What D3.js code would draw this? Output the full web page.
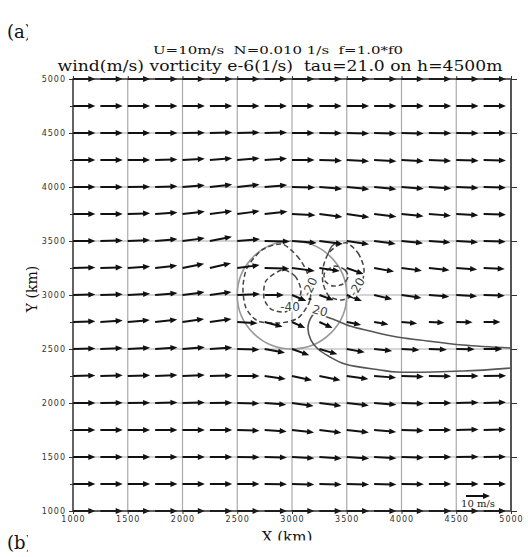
<!DOCTYPE html>
<html><head><meta charset="utf-8">
<script src="https://cdn.jsdelivr.net/npm/d3@7"></script>
<style>body{margin:0;background:#fff}text{white-space:pre}</style>
</head><body><svg id="c" width="528" height="557"></svg>
<script>
// ---------- data ----------
const xCols = [1000,1250,1500,1750,2000,2250,2500,2750,3000,3250,3500,3750,4000,4250,4500,4750];
const yRows = [5000,4750,4500,4250,4000,3750,3500,3250,3000,2750,2500,2250,2000,1750,1500,1250,1000];
const uRows = [
 [9.3,9.3,9.3,9.3,9.3,9.3,9.3,9.3,9.3,9.3,9.3,9.3,9.3,9.3,9.3,9.3],
 [9.3,9.3,9.3,9.3,9.3,9.3,9.3,9.3,9.3,9.3,9.3,9.3,9.3,9.3,9.3,9.3],
 [9.3,9.3,9.3,9.3,9.3,9.3,9.3,9.3,9.3,9.3,9.3,9.3,9.3,9.3,9.3,9.3],
 [9.3,9.3,9.3,9.3,9.3,9.3,9.3,9.3,9.4,9.4,9.3,9.3,9.3,9.3,9.3,9.3],
 [9.3,9.3,9.3,9.3,9.3,9.3,9.3,9.4,9.6,9.5,9.4,9.3,9.3,9.3,9.3,9.3],
 [9.3,9.3,9.3,9.3,9.3,9.3,9.3,9.5,9.8,9.6,9.4,9.3,9.2,9.2,9.2,9.3],
 [9.3,9.3,9.3,9.3,9.3,9.2,9.5,10.5,10.3,9.8,9.3,9.0,9.0,9.0,9.1,9.2],
 [9.3,9.3,9.3,9.2,9.0,8.8,9.3,10.3,9.5,8.5,7.0,8.3,8.5,8.6,8.7,8.8],
 [9.3,9.3,9.3,9.3,9.2,9.0,9.5,8.0,6.0,6.0,6.3,7.5,8.3,8.5,8.7,8.8],
 [9.3,9.3,9.2,9.2,9.0,9.0,8.5,7.5,5.5,5.5,6.0,6.0,6.5,6.5,6.8,7.0],
 [9.3,9.3,9.3,9.3,9.3,9.3,9.2,8.5,7.2,7.5,7.5,7.5,7.5,7.5,7.7,7.8],
 [9.3,9.3,9.3,9.3,9.3,9.3,9.3,8.8,8.3,8.8,9.0,9.2,9.3,9.3,9.3,9.4],
 [9.3,9.3,9.3,9.3,9.3,9.3,9.2,9.0,9.0,9.2,9.2,9.3,9.3,9.3,9.3,9.3],
 [9.3,9.3,9.3,9.3,9.3,9.3,9.3,9.2,9.2,9.2,9.2,9.2,9.3,9.3,9.3,9.3],
 [9.3,9.3,9.3,9.3,9.3,9.3,9.3,9.3,9.3,9.3,9.3,9.3,9.3,9.3,9.3,9.3],
 [9.3,9.3,9.3,9.3,9.3,9.3,9.3,9.3,9.3,9.3,9.3,9.3,9.3,9.3,9.3,9.3],
 [9.3,9.3,9.3,9.3,9.3,9.3,9.3,9.3,9.3,9.3,9.3,9.3,9.3,9.3,9.3,9.3]
];
const vRows = [
 [0,0,0,0,0,0,0,0,0,0,0,0,0,0,0,0],
 [0,0,0,0,0,0,0,0,0,0,0,0,0,0,0,0],
 [0,0,0,0,0.1,0.2,0.2,0.2,0,-0.1,-0.2,-0.2,-0.2,-0.1,-0.1,0],
 [0,0,0,0.2,0.5,0.7,0.7,0.6,0,-0.3,-0.5,-0.5,-0.5,-0.4,-0.3,-0.2],
 [0,0,0.1,0.3,0.7,1.0,1.0,0.8,-0.2,-0.8,-0.9,-0.9,-0.7,-0.6,-0.4,-0.3],
 [0,0,0.3,0.6,1.0,1.2,1.2,1.0,-0.5,-1.3,-1.4,-1.1,-0.9,-0.7,-0.5,-0.3],
 [0,0.2,0.4,0.8,1.2,1.8,0.8,-0.2,-0.8,-1.2,-1.4,-1.2,-0.9,-0.6,-0.5,-0.3],
 [0.2,0.3,0.6,1.0,1.8,2.0,1.2,-0.3,-1.2,-1.3,-2.5,-1.5,-1.1,-0.9,-0.6,-0.4],
 [0.2,0.3,0.5,0.8,1.2,1.3,0.4,0,-2.5,-2.2,-2.5,-1.8,-1.2,-0.7,-0.5,-0.3],
 [0.3,0.6,0.8,1.0,1.3,1.3,-0.5,-2.0,-2.5,-2.5,-1.2,-1.0,-0.6,-0.3,-0.1,0],
 [0.2,0.4,0.5,0.6,0.7,0.6,-0.3,-1.6,-2.6,-2.2,-1.4,-0.8,-0.4,-0.3,-0.1,0],
 [0.2,0.3,0.3,0.4,0.4,0.2,0,-1.3,-1.8,-1.8,-1.3,-0.7,-0.3,-0.1,0,0.1],
 [0,0.1,0.1,0.2,0.2,0.1,-0.2,-0.7,-1.3,-1.2,-1.0,-0.7,-0.3,0,0.2,0.3],
 [0,0,0,0,0,0,-0.3,-0.6,-1.0,-1.1,-1.0,-0.8,-0.3,0,0.2,0.2],
 [0,0,0,0,0,0,-0.1,-0.2,-0.5,-0.6,-0.6,-0.5,-0.3,0,0.1,0.1],
 [0,0,0,0,0,0,0,-0.1,-0.2,-0.2,-0.2,-0.2,-0.1,0,0,0],
 [0,0,0,0,0,0,0,0,0,0,0,0,0,0,0,0]
];
const majorTicks = [1000,1500,2000,2500,3000,3500,4000,4500,5000];
const minorTicks = [1250,1750,2250,2750,3250,3750,4250,4750];
const gridVals = [1500,2000,2500,3000,3500,4000,4500];
const refSpeed = 10;
const terrain = {cx:3000, cy:3000, r:500};
// vorticity contours (km coordinates)
const negOuterLeft = [[2909,3472],[3046,3361],[3128,3232],[3173,3074],[3155,2926],[3055,2787],[2890,2741],[2689,2759],[2580,2880],[2552,3065],[2589,3250],[2726,3417]];
const negInnerLeft = [[2909,3232],[3027,3176],[3082,3046],[3046,2917],[2936,2843],[2808,2870],[2744,2972],[2762,3130]];
const negOuterRight = [[3502,3482],[3603,3389],[3657,3250],[3639,3111],[3575,3009],[3456,2954],[3338,2991],[3283,3111],[3283,3250],[3329,3380],[3411,3454]];
const negInnerRight = [[3393,3269],[3484,3232],[3511,3167],[3466,3102],[3374,3083],[3301,3130],[3301,3213]];
const posContour = [[5000,2509],[4561,2537],[4169,2583],[3959,2611],[3712,2667],[3530,2713],[3393,2769],[3301,2806],[3240,2850],[3183,2806],[3146,2695],[3173,2583],[3237,2500],[3347,2426],[3484,2361],[3804,2306],[3959,2287],[4561,2296],[5000,2324]];
const zeroFrag = [[3329,3380],[3366,3454],[3420,3490]];
const contourLabels = [
  {t:"-40", x:2982, y:2889, rot:0},
  {t:"-20", x:3164, y:3074, rot:-65},
  {t:"-20", x:3593, y:3074, rot:-60},
  {t:"20",  x:3256, y:2852, rot:15}
];
const centerDot = [3164,2963];

// ---------- drawing ----------
const svg = d3.select("#c");
const x = d3.scaleLinear().domain([1000,5000]).range([73,511]);
const y = d3.scaleLinear().domain([1000,5000]).range([511,79]);
const len = d3.scaleLinear().domain([0,10]).range([0,24]);

// grid
const g = svg.append("g");
g.selectAll("line.gx").data(gridVals).join("line")
  .attr("x1",d=>x(d)).attr("x2",d=>x(d)).attr("y1",y(1000)).attr("y2",y(5000))
  .attr("stroke","#aaa").attr("stroke-width",1.2);
g.selectAll("line.gy").data(gridVals).join("line")
  .attr("y1",d=>y(d)).attr("y2",d=>y(d)).attr("x1",x(1000)).attr("x2",x(5000))
  .attr("stroke","#aaa").attr("stroke-width",1.2);

// terrain circle
svg.append("ellipse").attr("cx",x(terrain.cx)).attr("cy",y(terrain.cy))
  .attr("rx",x(terrain.cx+terrain.r)-x(terrain.cx)).attr("ry",y(terrain.cy)-y(terrain.cy+terrain.r))
  .attr("fill","none").attr("stroke","#999").attr("stroke-width",1.6);

// contours
const closed = d3.line().x(d=>x(d[0])).y(d=>y(d[1])).curve(d3.curveCardinalClosed.tension(0.2));
const open = d3.line().x(d=>x(d[0])).y(d=>y(d[1])).curve(d3.curveCatmullRom);
[negOuterLeft,negInnerLeft,negOuterRight,negInnerRight].forEach(c=>{
  svg.append("path").attr("d",closed(c)).attr("fill","none").attr("stroke","#444")
    .attr("stroke-width",1.5).attr("stroke-dasharray","5,3");
});
svg.append("path").attr("d",open(posContour)).attr("fill","none").attr("stroke","#555").attr("stroke-width",1.6);
svg.append("path").attr("d",open(zeroFrag)).attr("fill","none").attr("stroke","#555").attr("stroke-width",1.4);

// arrows
const ag = svg.append("g");
yRows.forEach((yy,i)=>{
  xCols.forEach((xx,j)=>{
    const u=uRows[i][j], v=vRows[i][j];
    const dx=len(u), dy=-len(v);
    const L=Math.hypot(dx,dy), a=Math.atan2(dy,dx)*180/Math.PI;
    const gg=ag.append("g").attr("transform",`translate(${x(xx)},${y(yy)}) rotate(${a})`);
    gg.append("line").attr("x1",0).attr("y1",0).attr("x2",L-4).attr("y2",0)
      .attr("stroke","#111").attr("stroke-width",2);
    gg.append("path").attr("d",`M${L},0L${L-7},-2.9L${L-7},2.9Z`).attr("fill","#111");
  });
});

// contour labels
contourLabels.forEach(l=>{
  svg.append("text").attr("transform",`translate(${x(l.x)},${y(l.y)}) rotate(${l.rot})`)
    .attr("text-anchor","middle").attr("dominant-baseline","central")
    .attr("font-family","DejaVu Sans").attr("font-size",12).attr("fill","#444")
    .attr("stroke","#fff").attr("stroke-width",3).attr("paint-order","stroke").text(l.t);
});
svg.append("circle").attr("cx",x(centerDot[0])).attr("cy",y(centerDot[1])).attr("r",1.6).attr("fill","#222");

// frame
svg.append("rect").attr("x",x(1000)).attr("y",y(5000)).attr("width",x(5000)-x(1000)).attr("height",y(1000)-y(5000))
  .attr("fill","none").attr("stroke","#222").attr("stroke-width",1.4);
svg.append("line").attr("x1",x(5000)).attr("x2",x(5000)).attr("y1",y(1000)).attr("y2",y(5000)).attr("stroke","#555").attr("stroke-width",2);

// axes
const fmt = d3.format("d");
const styleAxis = sel=>{
  sel.select(".domain").remove();
  sel.selectAll(".tick line").attr("stroke","#333").attr("stroke-width",1);
  sel.selectAll(".tick text").attr("font-family","DejaVu Sans").attr("font-size",8).attr("fill","#333").attr("letter-spacing",1);
};
svg.append("g").attr("transform",`translate(${x(1000)},0)`)
  .call(d3.axisLeft(y).tickValues(majorTicks).tickSize(4).tickPadding(3).tickFormat(fmt)).call(styleAxis);
svg.append("g").attr("transform",`translate(${x(1000)},0)`)
  .call(d3.axisLeft(y).tickValues(minorTicks).tickSize(3).tickFormat("")).call(styleAxis);
svg.append("g").attr("transform",`translate(0,${y(1000)})`)
  .call(d3.axisBottom(x).tickValues(majorTicks).tickSize(3).tickPadding(2).tickFormat(fmt)).call(styleAxis);
svg.append("g").attr("transform",`translate(${x(5000)},0)`)
  .call(d3.axisRight(y).tickValues(majorTicks).tickSize(6).tickFormat("")).call(styleAxis);
svg.append("g").attr("transform",`translate(0,${y(5000)})`)
  .call(d3.axisTop(x).tickValues(majorTicks).tickSize(3).tickFormat("")).call(styleAxis);

// reference vector
const rx0=466, ry0=496, rL=len(refSpeed);
svg.append("line").attr("x1",rx0).attr("y1",ry0).attr("x2",rx0+rL-4).attr("y2",ry0).attr("stroke","#111").attr("stroke-width",2);
svg.append("path").attr("d",`M${rx0+rL},${ry0}L${rx0+rL-7},${ry0-2.9}L${rx0+rL-7},${ry0+2.9}Z`).attr("fill","#111");
svg.append("text").attr("x",478).attr("y",507).attr("text-anchor","middle")
  .attr("font-family","DejaVu Serif").attr("font-size",10).attr("fill","#222").text("10 m/s");

// titles
svg.append("text").attr("x",278).attr("y",54).attr("text-anchor","middle")
  .attr("font-family","DejaVu Serif").attr("font-size",11).attr("fill","#111")
  .attr("textLength",250).attr("lengthAdjust","spacingAndGlyphs").text("U=10m/s  N=0.010 1/s  f=1.0*f0");
svg.append("text").attr("x",280).attr("y",71).attr("text-anchor","middle")
  .attr("font-family","DejaVu Serif").attr("font-size",14.5).attr("fill","#111")
  .attr("textLength",445).attr("lengthAdjust","spacingAndGlyphs").text("wind(m/s) vorticity e-6(1/s)  tau=21.0 on h=4500m");

// axis titles
svg.append("text").attr("transform","translate(37,289) rotate(-90)").attr("text-anchor","middle")
  .attr("font-family","DejaVu Serif").attr("font-size",14).attr("fill","#111").text("Y (km)");
const defs = svg.append("defs");
defs.append("clipPath").attr("id","cx").append("rect").attr("x",0).attr("y",0).attr("width",528).attr("height",540.5);
defs.append("clipPath").attr("id","cp").append("rect").attr("x",0).attr("y",0).attr("width",28).attr("height",557);
svg.append("text").attr("x",287).attr("y",542).attr("text-anchor","middle").attr("clip-path","url(#cx)")
  .attr("font-family","DejaVu Serif").attr("font-size",15).attr("fill","#111").text("X (km)");

// panel letters
svg.append("text").attr("x",7).attr("y",38).attr("clip-path","url(#cp)")
  .attr("font-family","DejaVu Serif").attr("font-size",18).attr("fill","#111").text("(a)");
svg.append("text").attr("x",7).attr("y",549).attr("clip-path","url(#cp)")
  .attr("font-family","DejaVu Serif").attr("font-size",18).attr("fill","#111").text("(b)");
</script></body></html>
